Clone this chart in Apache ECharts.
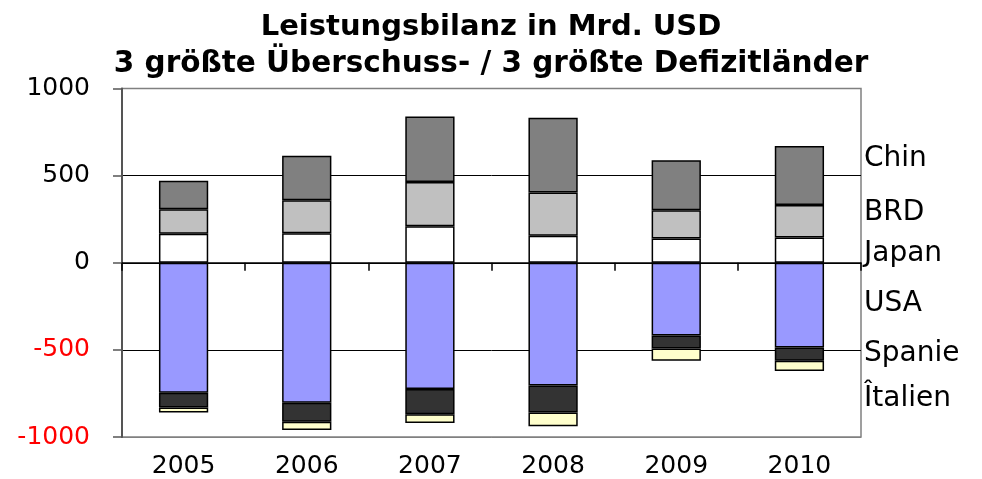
<!DOCTYPE html>
<html>
<head>
<meta charset="utf-8">
<script src="https://cdn.jsdelivr.net/npm/echarts@6/dist/echarts.min.js"></script>
<style>
html,body{margin:0;padding:0;background:#fff;}
#main{width:982px;height:479px;}
</style>
</head>
<body>
<div id="main"></div>
<script>
const years = ['2005','2006','2007','2008','2009','2010'];
const japan = [166,170,210,155,139,145];
const brd   = [141,189,254,248,163,187];
const china = [164,255,376,429,286,338];
const usa   = [-746,-803,-725,-705,-417,-487];
const spain = [-85,-110,-144,-155,-75,-76];
const italy = [-29,-47,-51,-78,-71,-58];
const yTicks = [-1000,-500,0,500,1000];
const sideLabels = ['Chin','BRD','Japan','USA','Spanie','Îtalien'];
const titleLines = ['Leistungsbilanz in Mrd. USD', '3 größte Überschuss- / 3 größte Defizitländer'];

const FONT = 'DejaVu Sans';
const sideY = [157, 211, 252, 302, 352, 397];

const chart = echarts.init(document.getElementById('main'), null, {renderer:'canvas'});

function bar(name, data, color){
  return {
    name, type:'bar', stack:'total', data, barWidth:'40%',
    itemStyle:{color, borderColor:'#000', borderWidth:1.5},
    emphasis:{disabled:true}, animation:false
  };
}

chart.setOption({
  animation:false,
  backgroundColor:'#fff',
  title: titleLines.map((t,i)=>({
    text:t, left:'center', top:9 + i*37, padding:0,
    textStyle:{fontFamily:FONT, fontWeight:'bold', fontSize:i === 0 ? 29 : 29.5, lineHeight:36, color:'#000'}
  })),
  grid:{left:122, right:121, top:88.5, bottom:40, show:true, borderColor:'#808080', borderWidth:1.5, backgroundColor:'#fff'},
  xAxis:[{
    type:'category', data:years, position:'bottom',
    axisLine:{show:true, onZero:true, lineStyle:{color:'#000', width:1.5}},
    axisTick:{show:true, length:8, lineStyle:{color:'#000', width:1.5}},
    axisLabel:{show:false}, splitLine:{show:false}
  },{
    type:'category', data:years, position:'bottom',
    axisLine:{show:false, onZero:false}, axisTick:{show:false},
    axisLabel:{show:true, margin:17, fontFamily:FONT, fontSize:25, color:'#000'},
    splitLine:{show:false}
  }],
  yAxis:{
    type:'value', min:yTicks[0], max:yTicks[yTicks.length-1], interval:500,
    axisLine:{show:true, onZero:false, lineStyle:{color:'#555', width:2}},
    axisTick:{show:true, length:9, lineStyle:{color:'#555', width:1.5}},
    axisLabel:{margin:32, fontFamily:FONT, fontSize:25,
      formatter:function(v){ return String(v); },
      color:function(v){ return Number(v) < 0 ? '#ff0000' : '#000'; }},
    splitLine:{show:true, lineStyle:{color:['#808080','#000','#000','#000','#808080'], width:1}}
  },
  series:[
    bar('Japan', japan, '#ffffff'),
    bar('BRD', brd, '#c0c0c0'),
    bar('China', china, '#808080'),
    bar('USA', usa, '#9999ff'),
    bar('Spanien', spain, '#333333'),
    bar('Italien', italy, '#ffffcc')
  ],
  graphic: sideLabels.map((t,i)=>({
    type:'text', left:864, top:sideY[i]-12, silent:true,
    style:{text:t, fontFamily:FONT, fontSize:28, fill:'#000'}
  }))
});
</script>
</body>
</html>
